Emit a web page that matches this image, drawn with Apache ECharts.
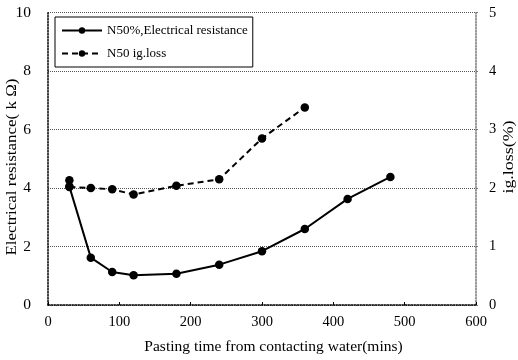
<!DOCTYPE html>
<html><head><meta charset="utf-8">
<script src="https://cdn.jsdelivr.net/npm/echarts@6/dist/echarts.min.js"></script>
<style>html,body{margin:0;padding:0;background:#fff}#c{width:518px;height:360px}</style>
</head><body><div id="c"></div>
<script>
var resistanceName = 'N50%,Electrical resistance';
var iglossName = 'N50 ig.loss';
var resistanceX = [30, 30, 60, 90, 120, 180, 240, 300, 360, 420, 480];
var resistanceY = [4.27, 4.05, 1.62, 1.13, 1.02, 1.07, 1.38, 1.84, 2.6, 3.63, 4.38];
var iglossX = [30, 60, 90, 120, 180, 240, 300, 360];
var iglossY = [2.02, 2.0, 1.98, 1.89, 2.04, 2.15, 2.85, 3.38];
var xTitle = 'Pasting time from contacting water(mins)';
var yLeftTitle = 'Electrical resistance( k Ω)';
var yRightTitle = 'ig.loss(%)';

function pairs(xs, ys){ return xs.map(function(x,i){ return [x, ys[i]]; }); }
var font = 'Liberation Serif';
var chart = echarts.init(document.getElementById('c'), null, {renderer:'canvas'});
chart.setOption({
  backgroundColor: '#fff',
  animation: false,
  textStyle: {fontFamily: font, color: '#000'},
  grid: {left: 48, right: 42, top: 12.7, bottom: 52.3, containLabel: false},
  legend: {
    left: 55, top: 17, orient: 'vertical',
    borderColor: '#000', borderWidth: 1, padding: [7, 5, 7, 6],
    itemGap: 10, itemWidth: 40, itemHeight: 8,
    textStyle: {fontFamily: font, fontSize: 13, color: '#000'},
    data: [resistanceName, iglossName]
  },
  xAxis: {
    type: 'value', min: 0, max: 600, interval: 100,
    name: xTitle, nameLocation: 'middle', nameGap: 34,
    nameTextStyle: {fontFamily: font, fontSize: 15.5, color: '#000', padding: [0,0,0,23]},
    axisLine: {show: true, lineStyle: {color: '#000', type: 'dotted', width: 1.5}},
    axisTick: {show: true, inside: true, length: 3, lineStyle: {color: '#000'}},
    axisLabel: {fontFamily: font, fontSize: 14.5, color: '#000', margin: 10},
    splitLine: {show: false}
  },
  yAxis: [{
    type: 'value', min: 0, max: 10, interval: 2, position: 'left',
    axisLine: {show: true, lineStyle: {color: '#000', type: 'dotted', width: 1.5}},
    axisTick: {show: false},
    axisLabel: {fontFamily: font, fontSize: 15.5, color: '#000', margin: 17},
    splitLine: {show: true, lineStyle: {color: '#555', type: 'dotted', width: 1}}
  }, {
    type: 'value', min: 0, max: 5, interval: 1, position: 'right',
    axisLine: {show: true, lineStyle: {color: '#777', type: 'dotted', width: 1.5}},
    axisTick: {show: true, length: 2, lineStyle: {color: '#777'}},
    axisLabel: {fontFamily: font, fontSize: 14.5, color: '#000', margin: 13},
    splitLine: {show: false}
  }],
  graphic: [{
    type: 'text', x: 12, y: 167, rotation: Math.PI/2, scaleX: 1.17,
    style: {text: yLeftTitle, fontFamily: font, fontSize: 14.5, fill: '#000', align: 'center', verticalAlign: 'middle'}
  }, {
    type: 'text', x: 509, y: 157, rotation: Math.PI/2, scaleX: 1.28,
    style: {text: yRightTitle, fontFamily: font, fontSize: 14, fill: '#000', align: 'center', verticalAlign: 'middle'}
  }],
  series: [{
    name: resistanceName, type: 'line', yAxisIndex: 0,
    data: pairs(resistanceX, resistanceY),
    symbol: 'circle', symbolSize: 8.5,
    lineStyle: {color: '#000', width: 2}, itemStyle: {color: '#000'}
  }, {
    name: iglossName, type: 'line', yAxisIndex: 1,
    data: pairs(iglossX, iglossY),
    symbol: 'circle', symbolSize: 8.5,
    lineStyle: {color: '#000', width: 2, type: [6, 4]}, itemStyle: {color: '#000'}
  }]
});
</script></body></html>
